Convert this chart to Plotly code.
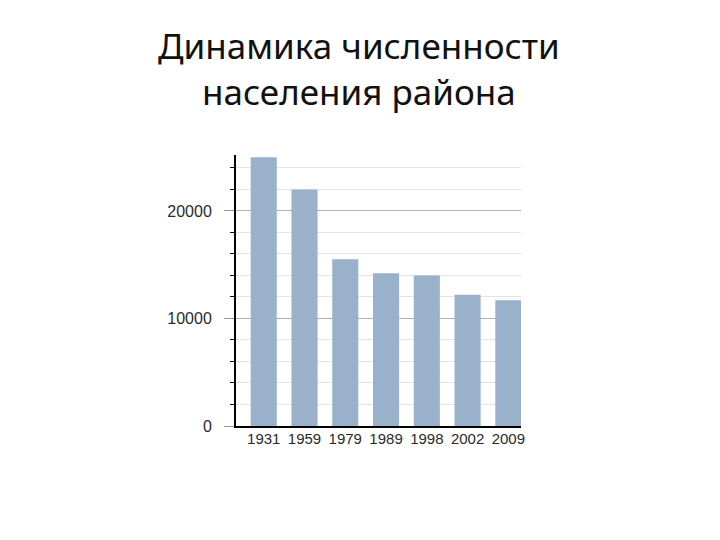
import plotly.graph_objects as go

years = ["1931", "1959", "1979", "1989", "1998", "2002", "2009"]
population = [25000, 22000, 15500, 14200, 14000, 12200, 11700]
y_tickvals = [0, 10000, 20000]
y_ticktext = ["0", "10000", "20000"]
title_lines = ["Динамика численности", "населения района"]

fig = go.Figure()
fig.add_trace(go.Bar(
    x=years, y=population,
    marker=dict(color="#99b1cb", line=dict(width=0)),
    width=0.64,
))

fig.update_layout(
    width=720, height=540,
    paper_bgcolor="white", plot_bgcolor="white",
    margin=dict(l=228, r=207, t=147, b=122),
    showlegend=False,
    font=dict(family="Liberation Sans, Arial, sans-serif", color="#2a2a2a"),
)

fig.add_annotation(
    text="<br>".join(title_lines),
    xref="paper", yref="paper", x=0.43, y=1,
    xanchor="center", yanchor="middle", yshift=87,
    showarrow=False,
    font=dict(family="Noto Sans, Open Sans, sans-serif", size=35, color="#111111"),
)

fig.update_xaxes(
    type="category",
    range=[-0.68, 6.31],
    showline=True, linecolor="black", linewidth=2,
    ticks="", showgrid=False,
    tickfont=dict(size=15, color="#2a2a2a"),
    ticklabelstandoff=-2,
)

fig.update_yaxes(
    range=[0, 25200],
    tickvals=y_tickvals, ticktext=y_ticktext,
    showline=True, linecolor="black", linewidth=2,
    ticks="outside", ticklen=10, tickcolor="#999999", tickwidth=1,
    showgrid=True, gridcolor="#b0b0b0", gridwidth=1,
    zeroline=False,
    tickfont=dict(size=16, color="#2a2a2a"),
    ticklabelstandoff=9,
    minor=dict(dtick=2000, ticks="outside", ticklen=4, tickcolor="black",
               showgrid=True, gridcolor="#e3e3e3", gridwidth=1),
)

fig.write_html("out.html")
